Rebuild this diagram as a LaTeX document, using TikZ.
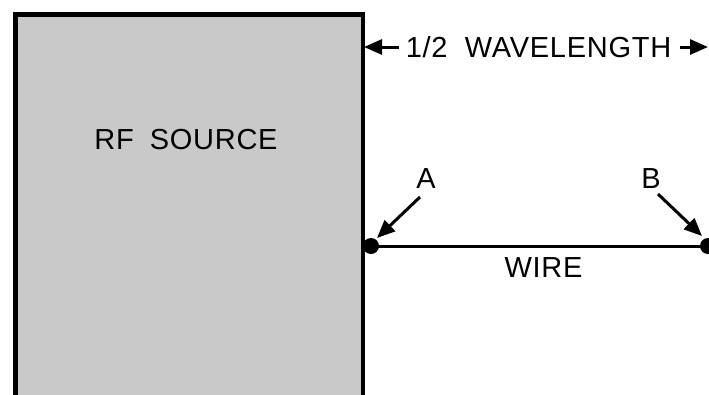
\documentclass[tikz,border=0pt]{standalone}
\usepackage{fontspec}
\setmainfont{Liberation Sans}
\newfontfamily\labfont[LetterSpace=2.5]{Liberation Sans}
\usetikzlibrary{arrows.meta}
\definecolor{srcgray}{HTML}{C9C9C9}
\tikzset{
  lab/.style={font=\labfont\fontsize{29}{31}\selectfont, inner sep=0pt, text=black},
  tipline/.style={line width=3pt, -{Triangle[length=18pt,width=15pt]}},
  dot/.style={circle, fill=black, inner sep=0pt, minimum size=16pt},
}
\begin{document}
\begin{tikzpicture}[x=1pt,y=-1pt]
\clip (0,0) rectangle (709,394);
\fill[white] (0,0) rectangle (709,394);
% source box
\node[draw=black, line width=4.5pt, fill=srcgray, anchor=north west,
      minimum width=347.5pt, minimum height=440pt, inner sep=0pt] (src) at (13,12) {};
\node[lab] (srctxt) at (186,140) {RF\hspace{0.55em}SOURCE};
% half wavelength dimension
\node[lab] (wl) at (538.5,47) {1/2\hspace{0.6em}WAVELENGTH};
\coordinate (l1) at (399,47);
\coordinate (l2) at (364,47);
\coordinate (r1) at (680,47);
\coordinate (r2) at (708,47);
\draw[tipline] (l1) -- (l2);
\draw[tipline] (r1) -- (r2);
% wire
\node[dot] (A) at (371,246) {};
\node[dot] (B) at (708,246) {};
\draw[line width=3pt] (A.center) -- (B.center);
\node[lab] (wire) at (543.5,268) {WIRE};
% labels
\node[lab] (la) at (426,179) {A};
\node[lab] (lb) at (651,179) {B};
\coordinate (ta) at (377,238);
\coordinate (tb) at (702,236);
\draw[tipline] (420,197) -- (ta);
\draw[tipline] (658,194) -- (tb);
\end{tikzpicture}
\end{document}
